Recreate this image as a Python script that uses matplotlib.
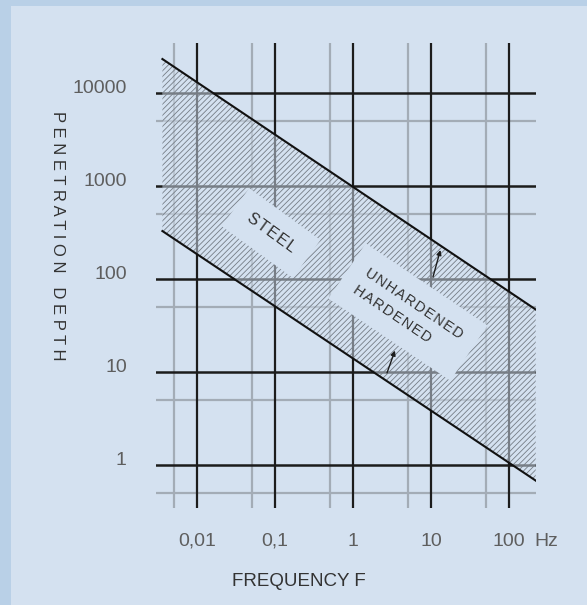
import matplotlib
matplotlib.use("Agg")
import matplotlib.pyplot as plt
from matplotlib.patches import Rectangle
from matplotlib.ticker import NullLocator

# frequency axis (Hz) and penetration depth axis
freq_ticks = [0.01, 0.1, 1, 10, 100]
freq_labels = ["0,01", "0,1", "1", "10", "100"]
freq_minor = [0.005, 0.05, 0.5, 5, 50]
depth_ticks = [1, 10, 100, 1000, 10000]
depth_labels = ["1", "10", "100", "1000", "10000"]
depth_minor = [0.5, 5, 50, 500, 5000]

# boundary lines of the steel band
band_freq = [0.0036, 220]
band_upper = [23200, 47]
band_lower = [328, 0.68]

bg = "#d4e1f0"
border = "#b9d0e7"

plt.rcParams["font.family"] = ["Liberation Sans", "DejaVu Sans"]
plt.rcParams["hatch.linewidth"] = 0.6

fig = plt.figure(figsize=(5.87, 6.05), dpi=100, facecolor=border)
fig.patches.append(Rectangle((11 / 587, 0), 1, 1 - 6 / 605, transform=fig.transFigure,
                             facecolor=bg, edgecolor="none", zorder=-10))

ax = fig.add_axes([156 / 587, 97 / 605, 380 / 587, 465 / 605])
ax.set_facecolor("none")
ax.set_xscale("log")
ax.set_yscale("log")
ax.set_xlim(0.002979, 222)
ax.set_ylim(0.345, 34500)

# grid
for f in freq_minor:
    ax.axvline(f, color="#a3acb6", lw=1.6, zorder=1)
for d in depth_minor:
    ax.axhline(d, color="#a3acb6", lw=1.6, zorder=1)
for f in freq_ticks:
    ax.axvline(f, color="#1c1c1c", lw=1.6, zorder=1)
for d in depth_ticks:
    ax.axhline(d, color="#1c1c1c", lw=1.8, zorder=1)

# hatched band
ax.fill_between(band_freq, band_lower, band_upper, facecolor=bg, alpha=0.5,
                edgecolor="none", zorder=2)
ax.fill_between(band_freq, band_lower, band_upper, facecolor="none",
                edgecolor="#757d86", hatch="//////", lw=0, zorder=3)
ax.plot(band_freq, band_upper, color="#111111", lw=1.5, zorder=5)
ax.plot(band_freq, band_lower, color="#111111", lw=1.5, zorder=5)

# labels inside the band
hs = "\u200a"
ax.text(0.0889, 312, hs.join("STEEL"), rotation=-36, ha="center", va="center",
        fontsize=11.5, color="#333333", zorder=4, rotation_mode="anchor",
        bbox=dict(boxstyle="square,pad=1.0", facecolor=bg, edgecolor="none"))
ax.text(5.07, 44.2, hs.join("UNHARDENED") + "\n" + hs.join("HARDENED"),
        rotation=-34, ha="center", va="center", multialignment="left",
        linespacing=1.6, fontsize=10.5, color="#333333", zorder=4,
        rotation_mode="anchor",
        bbox=dict(boxstyle="square,pad=1.1", facecolor=bg, edgecolor="none"))

arrow = dict(arrowstyle="-|>", color="#1c1c1c", lw=1.0, mutation_scale=7,
             shrinkA=0, shrinkB=0)
ax.annotate("", xy=(13.2, 205), xytext=(10.6, 105), arrowprops=arrow, zorder=6)
ax.annotate("", xy=(3.45, 17), xytext=(2.73, 9.8), arrowprops=arrow, zorder=6)

# ticks
ax.set_xticks(freq_ticks, freq_labels)
ax.set_yticks(depth_ticks, depth_labels)
ax.xaxis.set_minor_locator(NullLocator())
ax.yaxis.set_minor_locator(NullLocator())
ax.tick_params(axis="x", length=0, pad=18, labelsize=14, labelcolor="#5e5e5e")
ax.tick_params(axis="y", length=0, pad=21, labelsize=14, labelcolor="#5e5e5e")
plt.setp(ax.get_yticklabels(), va="baseline")
for s in ax.spines.values():
    s.set_visible(False)

ax.text(0.997, -0.0535, "Hz", transform=ax.transAxes, ha="left", va="top",
        fontsize=14, color="#5e5e5e")

fig.text(57 / 587, 1 - 236 / 605, "P E N E T R A T I O N   D E P T H", rotation=-90,
         ha="center", va="center", fontsize=12, color="#333333")
fig.text(299 / 587, 1 - 582 / 605, "FREQUENCY F", ha="center", va="center",
         fontsize=13.5, color="#333333")

fig.savefig("out.png", dpi=100, facecolor=fig.get_facecolor())
